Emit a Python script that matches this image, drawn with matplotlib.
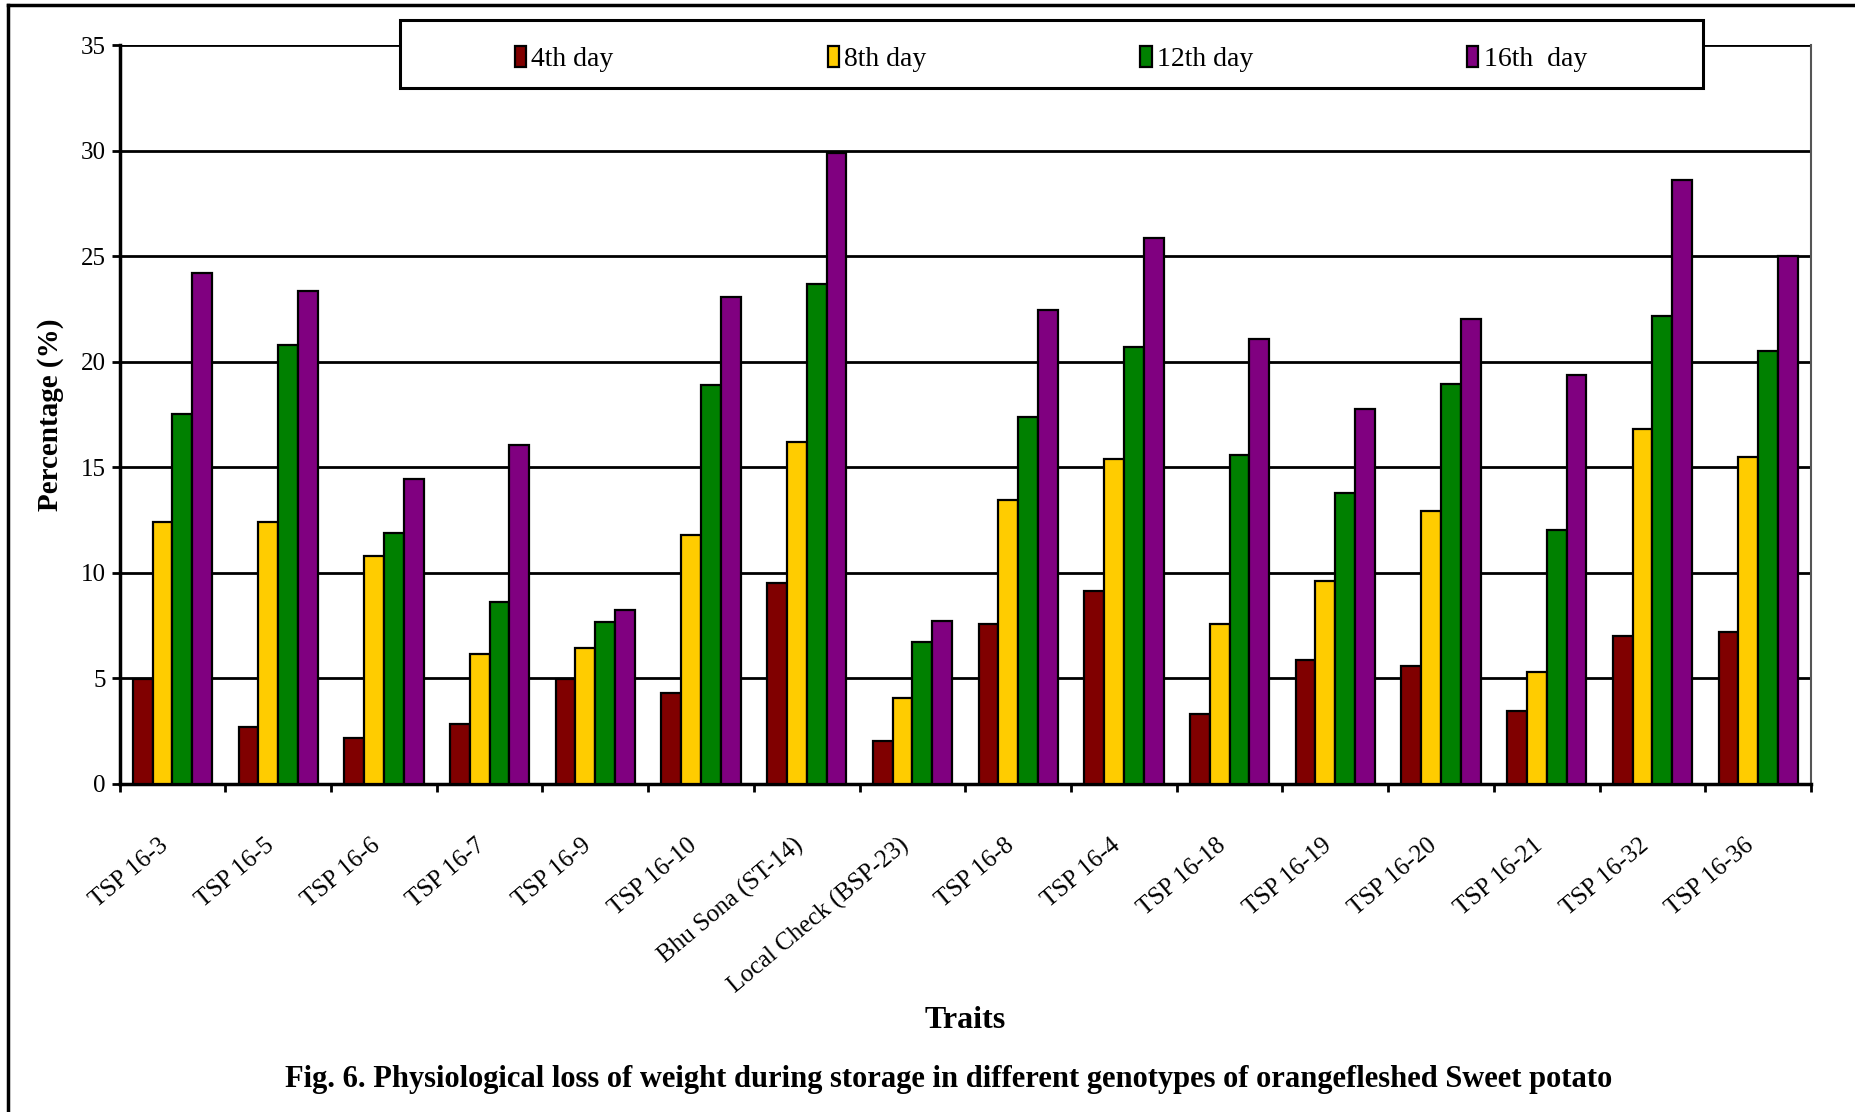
import numpy as np
import matplotlib.pyplot as plt
import matplotlib.transforms as mtransforms
from matplotlib.lines import Line2D
from matplotlib.patches import Rectangle

plt.rcParams["font.family"] = ["Liberation Serif", "DejaVu Serif"]

genotypes = [
    "TSP 16-3", "TSP 16-5", "TSP 16-6", "TSP 16-7", "TSP 16-9", "TSP 16-10",
    "Bhu Sona (ST-14)", "Local Check (BSP-23)", "TSP 16-8", "TSP 16-4",
    "TSP 16-18", "TSP 16-19", "TSP 16-20", "TSP 16-21", "TSP 16-32", "TSP 16-36",
]
day4 = [4.96, 2.70, 2.20, 2.83, 4.96, 4.30, 9.54, 2.04,
        7.57, 9.15, 3.33, 5.88, 5.61, 3.46, 7.00, 7.20]
day8 = [12.43, 12.43, 10.82, 6.15, 6.45, 11.77, 16.22, 4.05,
        13.46, 15.40, 7.57, 9.62, 12.91, 5.29, 16.81, 15.51]
day12 = [17.52, 20.77, 11.91, 8.63, 7.69, 18.90, 23.66, 6.73,
         17.36, 20.68, 15.58, 13.76, 18.96, 12.02, 22.15, 20.52]
day16 = [24.18, 23.37, 14.44, 16.07, 8.26, 23.06, 29.89, 7.74,
         22.44, 25.86, 21.07, 17.74, 22.02, 19.38, 28.60, 25.03]

series = {
    "4th day": (day4, "#800000"),
    "8th day": (day8, "#FFCC00"),
    "12th day": (day12, "#008000"),
    "16th  day": (day16, "#800080"),
}

W, H = 1856, 1112
fig = plt.figure(figsize=(W / 100, H / 100), dpi=100)
ax = fig.add_axes([119.6 / W, 1 - 784 / H, (1811 - 119.6) / W, (784 - 45) / H])

x = np.arange(len(genotypes))
bar_w = 0.1875
handles = []
for i, (name, (vals, color)) in enumerate(series.items()):
    bars = ax.bar(x + (i - 1.5) * bar_w, vals, width=bar_w, color=color,
                  edgecolor="black", linewidth=1.6, zorder=3, label=name)
    handles.append(bars)

ax.set_xlim(-0.5, len(genotypes) - 0.5)
ax.set_ylim(0, 35)
ax.set_yticks(np.arange(0, 36, 5))
ax.yaxis.grid(True, color="black", linewidth=2.0, zorder=0)
ax.set_axisbelow(True)

# labels sit at group centres, tick marks at group boundaries
ax.set_xticks(x)
ax.set_xticks(np.arange(-0.5, len(genotypes)), minor=True)
ax.tick_params(axis="x", which="major", length=0, pad=36)
ax.tick_params(axis="x", which="minor", length=6, width=2, direction="out")
ax.tick_params(axis="y", length=6, width=2, direction="out", labelsize=18, pad=4)
ax.set_xticklabels(genotypes, rotation=40, ha="right", va="top",
                   rotation_mode="anchor", fontsize=18)
shift = mtransforms.ScaledTranslation(-10 / 72, 0, fig.dpi_scale_trans)
for lbl in ax.get_xticklabels():
    lbl.set_transform(lbl.get_transform() + shift)

for side in ["left", "bottom"]:
    ax.spines[side].set_linewidth(2.5)
ax.spines["top"].set_visible(False)
ax.spines["right"].set_color("#555555")
ax.spines["right"].set_linewidth(1.5)

ax.set_ylabel("Percentage (%)", fontsize=21, fontweight="bold", labelpad=12)
fig.text(965 / W, 1 - 1020 / H, "Traits", fontsize=23,
         fontweight="bold", ha="center", va="center")
fig.text(949 / W, 1 - 1080 / H,
         "Fig. 6. Physiological loss of weight during storage in different "
         "genotypes of orangefleshed Sweet potato",
         fontsize=22, fontweight="bold", ha="center", va="center")

# legend box drawn separately so the entries can be spread out inside it
box = Rectangle((400 / W, 1 - 88 / H), 1303 / W, 68 / H, transform=fig.transFigure,
                facecolor="white", edgecolor="black", linewidth=2.2, zorder=4)
fig.patches.append(box)
fig.legend(handles=handles, loc="center", ncol=4, frameon=False,
           bbox_to_anchor=(1051 / W, 1 - 59 / H), fontsize=20,
           handlelength=0.4, handleheight=0.8, handletextpad=0.2,
           columnspacing=7.7)

# outer frame of the figure panel
fig.add_artist(Line2D([8 / W, 8 / W], [0, 1 - 5 / H], color="black", linewidth=2.5))
fig.add_artist(Line2D([8 / W, 1], [1 - 5 / H, 1 - 5 / H], color="black", linewidth=2.5))

fig.savefig("out.png", dpi=100)
